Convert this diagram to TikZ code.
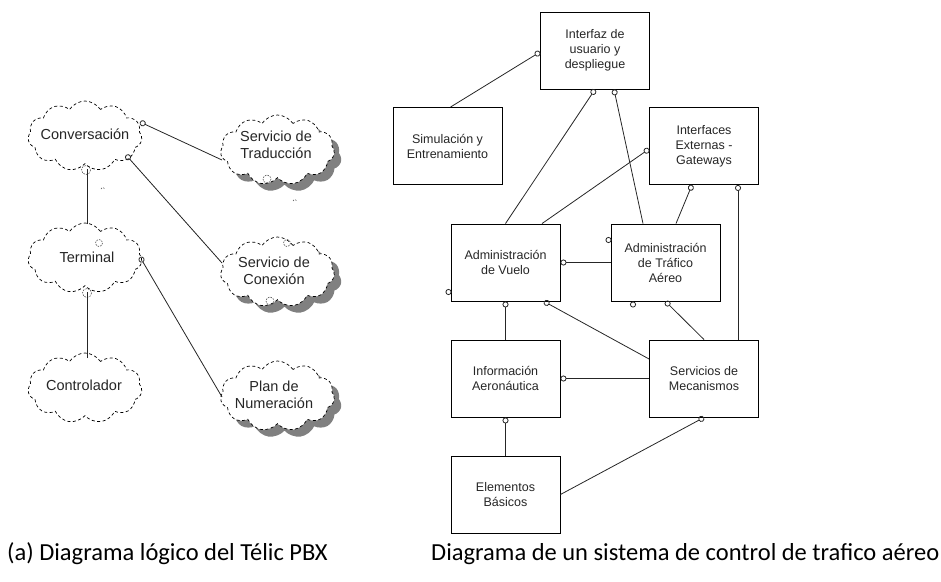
\documentclass[tikz,border=0pt]{standalone}
\usepackage{fontspec}
\setmainfont{Liberation Sans}
\newfontfamily\capfont{Carlito}
\usetikzlibrary{shapes.symbols,shadows,arrows.meta,calc}
\tikzset{
  box/.style={draw, line width=0.9pt, minimum width=109pt, minimum height=77pt, inner sep=0pt, align=center, font=\fontsize{12.5}{15}\selectfont, text=black!85},
  cloudy/.style={shape=cloud, cloud puffs=11, cloud puff arc=115, aspect=1.7, draw, dash pattern=on 3pt off 2.5pt, line width=0.7pt, fill=white, minimum width=114pt, minimum height=70pt, inner sep=0pt},
  shadowed/.style={drop shadow={shadow xshift=7pt, shadow yshift=-7pt, fill=black!50, opacity=1}},
  ctext/.style={align=center, font=\fontsize{14.5}{17}\selectfont, text=black!85, inner sep=0pt},
  conn/.style={line width=0.8pt, draw=black!85},
  lolli/.style={conn, -{Circle[open, length=6pt, width=6pt]}},
  dotcirc/.style={draw=black!85, line width=0.8pt, fill=white},
  tinymark/.style={draw=black!70, dash pattern=on 1.5pt off 1.2pt, line width=0.6pt},
  captxt/.style={anchor=base west, inner sep=0pt, font=\capfont\fontsize{24.5}{29}\selectfont}
}
\begin{document}
\begin{tikzpicture}[x=1pt, y=-1pt]
\useasboundingbox (0,0) rectangle (941,581);
% ---------- left: clouds ----------
\node[cloudy] (conv) at (85,136) {};
\node[cloudy, shadowed] (trad) at (277.5,150) {};
\node[cloudy] (term) at (85,258) {};
\node[cloudy, shadowed] (conx) at (277.5,272) {};
\node[cloudy] (ctrl) at (85,388) {};
\node[cloudy, shadowed] (plan) at (277.5,396) {};
\node[ctext] (convt) at (85,134) {Conversación};
\node[ctext] (tradt) at (276,145) {Servicio de\\Traducción};
\node[ctext] (termt) at (87,257) {Terminal};
\node[ctext] (conxt) at (274,271) {Servicio de\\Conexión};
\node[ctext] (ctrlt) at (84,385) {Controlador};
\node[ctext] (plant) at (274,395) {Plan de\\Numeración};
% small dashed marks
\draw[tinymark] (86,170) circle (4.5);
\draw[tinymark] (87,293) circle (4.5);
\draw[tinymark] (99,243) circle (3.5);
\draw[tinymark] (267,179) circle (4);
\draw[tinymark] (287,243) circle (3.5);
\draw[tinymark] (270,301) circle (4);
\draw[tinymark] (101,189) arc (200:340:2);
\draw[tinymark] (293,201) arc (200:340:2);
% cloud connectors
\draw[lolli] ($(trad.center)+(-55.5,10)$) -- ($(conv.center)+(55,-14)$);
\draw[lolli] ($(conx.center)+(-55.5,-9)$) -- ($(conv.center)+(41,19)$);
\draw[conn] ($(term.center)+(2,-34)$) -- ($(conv.center)+(2,33)$);
\draw[lolli] ($(plan.center)+(-55.5,1)$) -- ($(term.center)+(55,-1)$);
\draw[conn] ($(ctrl.center)+(2,-30)$) -- ($(term.center)+(2,34)$);
% ---------- right: boxes ----------
\node[box] (ivu) at (595,50.5) {Interfaz de\\usuario y\\despliegue};
\node[box] (sim) at (447.5,146) {Simulación y\\Entrenamiento};
\node[box] (iext) at (704,146) {Interfaces\\Externas -\\Gateways};
\node[box] (adv) at (505.5,262.5) {Administración\\de Vuelo};
\node[box] (adt) at (665.5,262.5) {Administración\\de Tráfico\\Aéreo};
\node[box] (inf) at (505.5,378.5) {Información\\Aeronáutica};
\node[box] (smec) at (704,378.5) {Servicios de\\Mecanismos};
\node[box] (elem) at (505.5,494.5) {Elementos\\Básicos};
% connectors
\draw[lolli] ([xshift=3pt]sim.north) -- ([yshift=-1.5pt]ivu.west);
\draw[lolli] (adv.north) -- (ivu.south);
\draw[lolli] ([xshift=-22.5pt]adt.north) -- ([xshift=19pt]ivu.south);
\draw[lolli] ([xshift=36.5pt]adv.north) -- ([yshift=-3pt]iext.west);
\draw[lolli] ([xshift=10.5pt]adt.north) -- ([xshift=-12pt]iext.south);
\draw[lolli] ([xshift=34pt]smec.north) -- ([xshift=34pt]iext.south);
\draw[lolli] (adt.west) -- (adv.east);
\draw[lolli] (inf.north) -- (adv.south);
\draw[lolli] ([yshift=19.5pt]smec.west) -- ([xshift=38.5pt]adv.south);
\draw[lolli] (smec.north) -- (adt.south);
\draw[lolli] (smec.west) -- (inf.east);
\draw[lolli] (elem.north) -- (inf.south);
\draw[lolli] (elem.east) -- (smec.south);
% dangling ends
\draw[dotcirc] (608.5,240) circle (2.6);
\draw[dotcirc] (448.5,292) circle (2.6);
\draw[dotcirc] (633,304.5) circle (2.6);
% ---------- captions ----------
\node[captxt] (capa) at (7,560) {(a) Diagrama lógico del Télic PBX};
\node[captxt] (capb) at (431,560) {Diagrama de un sistema de control de trafico aéreo};
\end{tikzpicture}
\end{document}
